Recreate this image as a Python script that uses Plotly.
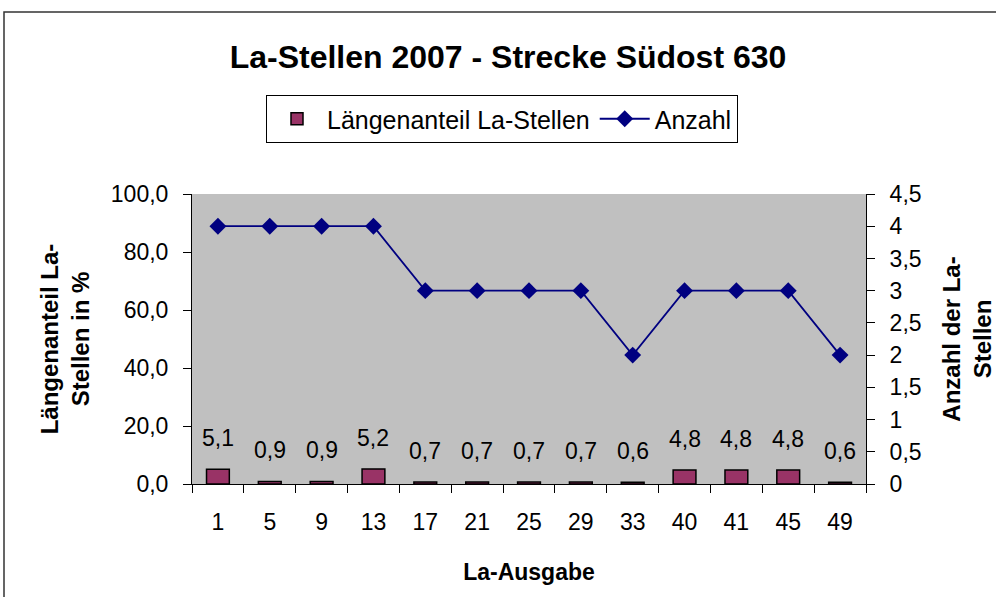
import plotly.graph_objects as go

categories = ["1", "5", "9", "13", "17", "21", "25", "29", "33", "40", "41", "45", "49"]
laengenanteil = [5.1, 0.9, 0.9, 5.2, 0.7, 0.7, 0.7, 0.7, 0.6, 4.8, 4.8, 4.8, 0.6]
anzahl = [4, 4, 4, 4, 3, 3, 3, 3, 2, 3, 3, 3, 2]
left_ticks = [0, 20, 40, 60, 80, 100]
left_ticktext = ["0,0", "20,0", "40,0", "60,0", "80,0", "100,0"]
right_ticks = [0, 0.5, 1, 1.5, 2, 2.5, 3, 3.5, 4, 4.5]
right_ticktext = ["0", "0,5", "1", "1,5", "2", "2,5", "3", "3,5", "4", "4,5"]

FONT = "Arial, Liberation Sans, sans-serif"
W, H = 996, 597
L, R, T, B = 192, 866, 194, 484
pw, ph = R - L, B - T
FS = 23

bar_text = [f"{v:.1f}".replace(".", ",") for v in laengenanteil]

fig = go.Figure()
fig.add_trace(go.Bar(
    x=categories, y=laengenanteil, name="Längenanteil La-Stellen",
    marker=dict(color="#993366", line=dict(color="#000000", width=1.5)),
    width=0.44, yaxis="y",
))
fig.add_trace(go.Scatter(
    x=categories, y=anzahl, name="Anzahl", mode="lines+markers",
    line=dict(color="#000080", width=1.8),
    marker=dict(symbol="diamond", size=13, color="#000080"),
    yaxis="y2",
))

# data labels above bars (category index positions)
for i, (v, t) in enumerate(zip(laengenanteil, bar_text)):
    fig.add_annotation(x=i, y=v, xref="x", yref="y", text=t, showarrow=False,
                       yanchor="bottom", yshift=16, font=dict(family=FONT, size=FS, color="#000000"))

# outer chart border
fig.add_shape(type="rect", xref="paper", yref="paper",
              x0=(4 - L) / pw, x1=(1100 - L) / pw,
              y0=(B - 700) / ph, y1=(B - 12) / ph,
              line=dict(color="#333333", width=1.5), fillcolor="rgba(0,0,0,0)", layer="below")

fig.update_layout(
    width=W, height=H,
    margin=dict(l=L, r=W - R, t=T, b=H - B, pad=0, autoexpand=False),
    paper_bgcolor="#ffffff", plot_bgcolor="#c0c0c0",
    font=dict(family=FONT, size=FS, color="#000000"),
    title=dict(text="<b>La-Stellen 2007 - Strecke Südost 630</b>", x=508 / W, xanchor="center",
               y=1 - 57 / H, yanchor="middle", font=dict(size=32, family=FONT)),
    showlegend=True,
    legend=dict(orientation="h", x=(502 - L) / pw, xanchor="center", y=(B - 119) / ph, yanchor="middle",
                bordercolor="#000000", borderwidth=1, bgcolor="#ffffff",
                font=dict(size=25, family=FONT), traceorder="normal", itemwidth=50),
    xaxis=dict(type="category", range=[-0.5, len(categories) - 0.5], showline=True, linecolor="#000000", linewidth=1,
               ticks="outside", ticklen=8, tickcolor="#000000", tickson="boundaries", automargin=False,
               showgrid=False, tickfont=dict(size=FS), ticklabelstandoff=17,
               title=dict(text="<b>La-Ausgabe</b>", font=dict(size=FS), standoff=30)),
    yaxis=dict(range=[0, 100], tickvals=left_ticks, ticktext=left_ticktext, showgrid=False, automargin=False,
               showline=True, linecolor="#000000", linewidth=1, ticks="outside", ticklen=8,
               tickcolor="#000000", zeroline=False, tickfont=dict(size=FS), ticklabelstandoff=10,
               title=dict(text="<b>Längenanteil La-<br>Stellen in %</b>", font=dict(size=24), standoff=14)),
    yaxis2=dict(range=[0, 4.5], tickvals=right_ticks, ticktext=right_ticktext, overlaying="y", side="right",
                showgrid=False, showline=True, linecolor="#000000", linewidth=1, ticks="outside", ticklen=8,
                tickcolor="#000000", zeroline=False, tickfont=dict(size=FS), ticklabelstandoff=10, automargin=False,
                title=dict(text="<b>Anzahl der La-<br>Stellen</b>", font=dict(size=24), standoff=28)),
)

fig.write_html("out.html", config={"displayModeBar": False})
with open("out.html", encoding="utf-8") as f:
    html = f.read()
html = html.replace("<body>", '<body style="margin:0;padding:0">', 1)
with open("out.html", "w", encoding="utf-8") as f:
    f.write(html)
